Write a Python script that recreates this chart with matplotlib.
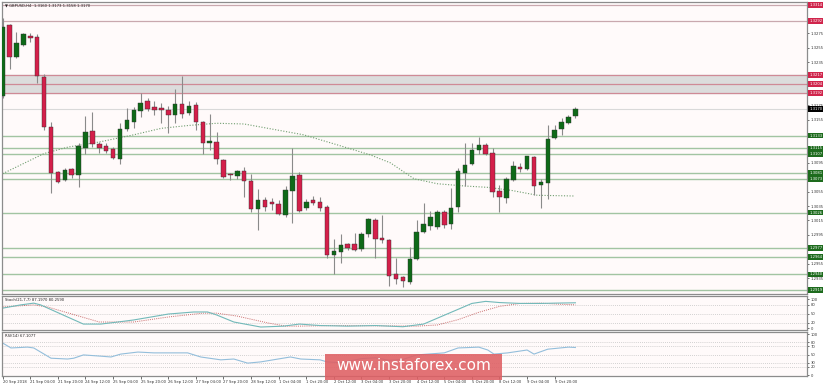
import matplotlib
matplotlib.use("Agg")
import matplotlib.pyplot as plt
import matplotlib.transforms as mtransforms
from matplotlib.patches import Rectangle

# ---------------- data ----------------
opens = [1.3188, 1.3287, 1.3242, 1.3259, 1.3271, 1.3270, 1.3214, 1.3145, 1.3082, 1.3071,
         1.3086, 1.3078, 1.3116, 1.3139, 1.3121, 1.3118, 1.3114, 1.3100, 1.3142, 1.3152,
         1.3167, 1.3181, 1.3173, 1.3171, 1.3168, 1.3161, 1.3177, 1.3164, 1.3175, 1.3152,
         1.3122, 1.3124, 1.3099, 1.3080, 1.3077, 1.3084, 1.3070, 1.3031, 1.3043, 1.3041,
         1.3038, 1.3023, 1.3056, 1.3078, 1.3032, 1.3043, 1.3041, 1.3034, 1.2967, 1.2971,
         1.2982, 1.2982, 1.2975, 1.2996, 1.3016, 1.2991, 1.2988, 1.2941, 1.2937, 1.2930,
         1.2962, 1.2999, 1.3007, 1.3006, 1.3027, 1.3010, 1.3034, 1.3081, 1.3093, 1.3113,
         1.3120, 1.3109, 1.3056, 1.3046, 1.3071, 1.3089, 1.3086, 1.3103, 1.3064, 1.3067,
         1.3130, 1.3142, 1.3150, 1.3160]
highs = [1.3296, 1.3288, 1.3277, 1.3275, 1.3275, 1.3274, 1.3218, 1.3152, 1.3084, 1.3088,
         1.3088, 1.3122, 1.3160, 1.3166, 1.3124, 1.3122, 1.3117, 1.3150, 1.3171, 1.3173,
         1.3192, 1.3185, 1.3181, 1.3178, 1.3174, 1.3198, 1.3216, 1.3181, 1.3180, 1.3153,
         1.3163, 1.3138, 1.3100, 1.3081, 1.3085, 1.3089, 1.3080, 1.3059, 1.3048, 1.3046,
         1.3043, 1.3063, 1.3116, 1.3082, 1.3045, 1.3049, 1.3048, 1.3036, 1.2989, 1.2996,
         1.2984, 1.2998, 1.2999, 1.3019, 1.3018, 1.3023, 1.2989, 1.2963, 1.2938, 1.2978,
         1.3016, 1.3039, 1.3028, 1.3030, 1.3030, 1.3060, 1.3088, 1.3122, 1.3122, 1.3131,
         1.3122, 1.3116, 1.3064, 1.3075, 1.3097, 1.3095, 1.3105, 1.3104, 1.3073, 1.3147,
         1.3147, 1.3157, 1.3161, 1.3173]
lows = [1.3185, 1.3225, 1.3240, 1.3257, 1.3263, 1.3206, 1.3140, 1.3053, 1.3067, 1.3070,
        1.3074, 1.3061, 1.3107, 1.3117, 1.3109, 1.3109, 1.3100, 1.3093, 1.3139, 1.3143,
        1.3159, 1.3167, 1.3161, 1.3150, 1.3136, 1.3150, 1.3157, 1.3161, 1.3140, 1.3107,
        1.3113, 1.3093, 1.3074, 1.3071, 1.3073, 1.3048, 1.3027, 1.3002, 1.3028, 1.3030,
        1.3023, 1.3020, 1.3012, 1.3027, 1.3030, 1.3036, 1.3028, 1.2963, 1.2941, 1.2956,
        1.2974, 1.2973, 1.2973, 1.2992, 1.2963, 1.2984, 1.2924, 1.2927, 1.2923, 1.2927,
        1.2960, 1.2998, 1.3002, 1.3003, 1.3005, 1.3003, 1.3027, 1.3063, 1.3092, 1.3107,
        1.3106, 1.3048, 1.3027, 1.3039, 1.3070, 1.3082, 1.3085, 1.3050, 1.3032, 1.3045,
        1.3128, 1.3134, 1.3149, 1.3158]
closes = [1.3284, 1.3242, 1.3262, 1.3274, 1.3268, 1.3216, 1.3145, 1.3081, 1.3068, 1.3085,
          1.3078, 1.3118, 1.3138, 1.3121, 1.3116, 1.3111, 1.3102, 1.3142, 1.3155, 1.3168,
          1.3178, 1.3170, 1.3168, 1.3168, 1.3161, 1.3177, 1.3163, 1.3174, 1.3152, 1.3122,
          1.3125, 1.3100, 1.3075, 1.3078, 1.3084, 1.3070, 1.3031, 1.3043, 1.3034, 1.3038,
          1.3024, 1.3057, 1.3077, 1.3028, 1.3041, 1.3039, 1.3032, 1.2967, 1.2973, 1.2981,
          1.2977, 1.2974, 1.2996, 1.3017, 1.2989, 1.2988, 1.2938, 1.2934, 1.2931, 1.2962,
          1.2999, 1.3010, 1.3020, 1.3027, 1.3009, 1.3032, 1.3084, 1.3092, 1.3113, 1.3120,
          1.3107, 1.3054, 1.3048, 1.3073, 1.3091, 1.3086, 1.3104, 1.3063, 1.3068, 1.3128,
          1.3140, 1.3152, 1.3159, 1.3170]

# moving average read points (bar, price)
ma_bars = [0, 6, 9.5, 14, 19, 23, 27, 31, 35, 39, 43.6, 48.5, 53.3, 56.2, 59.6, 63, 66.8,
           70.3, 73.6, 77.5, 82.8]
ma_vals = [1.3080, 1.3108, 1.3117, 1.3124, 1.3134, 1.3143, 1.3147, 1.3150, 1.3149, 1.3142,
           1.3134, 1.3120, 1.3106, 1.3095, 1.3073, 1.3066, 1.3063, 1.3061, 1.3057, 1.3050,
           1.3049]

# stochastic read points
stk_bars = [0, 2.6, 4.5, 5.5, 9.4, 11.7, 14.2, 16.7, 19, 24, 27.7, 29.7, 31, 33.5, 37.4,
            40.7, 43, 46, 50, 54, 58, 61, 63, 66, 68, 70, 72, 75, 78, 80, 83]
stk_vals = [69, 80, 86, 80, 39, 15, 15, 22, 29, 49, 56, 56, 46, 22, 5, 8, 15, 10, 8, 10,
            6, 15, 35, 65, 85, 92, 88, 85, 85, 86, 87.2]
sig_bars = [0, 4.5, 6.5, 9, 14, 19, 24, 29, 31, 34, 38.4, 41, 43, 48, 55, 60, 63, 66, 69,
            72, 75, 78, 81, 83]
sig_vals = [73, 80, 73, 56, 22, 22, 39, 52, 52, 42, 19, 8, 8, 10, 9, 8, 12, 30, 55, 75, 85,
            86, 82, 80.3]

# RSI read points
rsi_bars = [0, 1.2, 3.6, 4.5, 7, 9.4, 10.3, 11.7, 14.2, 15.7, 17.1, 19.6, 21.9, 24, 26.8,
            28.7, 31.6, 33.5, 35.5, 37.4, 41.7, 43.2, 46, 47, 49, 52, 54, 56, 58, 60, 61.6,
            64, 66, 69, 70.3, 71.2, 73.2, 76, 77, 79, 82, 83]
rsi_vals = [78, 66, 68, 66, 41, 39, 41, 49, 46, 44, 51, 56, 54, 54, 54, 44, 37, 39, 29, 32,
            44, 39, 37, 32, 30, 40, 42, 36, 38, 49, 51, 54, 66, 68, 61, 51, 54, 61, 51, 63,
            68, 67.1]

red_levels = [1.3314, 1.3292, 1.3217, 1.3204, 1.3192]
green_levels = [1.3133, 1.3115, 1.3107, 1.3081, 1.3073, 1.3026, 1.2977, 1.2964, 1.2940, 1.2919]
band = (1.3192, 1.3217)
last_price = 1.3170
plain_ticks = [1.3275, 1.3255, 1.3235, 1.3175, 1.3155, 1.3095, 1.3055, 1.3035, 1.3015,
               1.2995, 1.2955, 1.2935]

time_labels = ["20 Sep 2018", "21 Sep 04:00", "21 Sep 20:00", "24 Sep 12:00", "25 Sep 04:00",
               "25 Sep 20:00", "26 Sep 12:00", "27 Sep 04:00", "27 Sep 20:00", "28 Sep 12:00",
               "1 Oct 04:00", "1 Oct 20:00", "2 Oct 12:00", "3 Oct 04:00", "3 Oct 20:00",
               "4 Oct 12:00", "5 Oct 04:00", "5 Oct 20:00", "8 Oct 12:00", "9 Oct 04:00",
               "9 Oct 20:00"]
time_label_step = 4

header_main = "\u25bc GBPUSD,H4  1.3160 1.3173 1.3158 1.3170"
header_stoch = "Stoch(21,7,7) 87.1970 80.2590"
header_rsi = "RSI(14) 67.1077"
stoch_levels = [80, 50, 20]
stoch_ticks = [100, 80, 50, 20, 0]
rsi_levels = [80, 70, 50, 30, 20]
rsi_ticks = [100, 80, 70, 50, 30, 20, 0]

# ---------------- styling ----------------
W, H = 825, 385
BG = "#fffafa"
GREEN = "#0e6a18"
RED = "#d41f4a"
FS = 2.7
FRAME = "#8c8c8c"

fig = plt.figure(figsize=(W / 100, H / 100), dpi=100)
fig.patch.set_facecolor("white")

def px_axes(left, top, right, bottom):
    return fig.add_axes([left / W, 1 - bottom / H, (right - left) / W, (bottom - top) / H])

ax = px_axes(2, 1.5, 807, 294)
ax_s = px_axes(2, 296, 807, 330)
ax_r = px_axes(2, 332, 807, 376)

x0, x1 = -0.1, -0.1 + 805 / 6.9
for a in (ax, ax_s, ax_r):
    a.set_facecolor(BG)
    a.set_xlim(x0, x1)
    for s in a.spines.values():
        s.set_color(FRAME)
        s.set_linewidth(0.9)
    a.tick_params(axis="y", left=False, labelleft=False, right=True, labelright=True,
                  labelsize=FS, length=1.5, width=0.5, pad=1, colors="#333333")
    a.tick_params(axis="x", bottom=False, labelbottom=False)

# main price panel
ax.set_ylim(1.29129, 1.33191)
ax.axhspan(band[0], band[1], color="#dcdcdc", zorder=0)
for i, v in enumerate(red_levels):
    ax.axhline(v, color="#cf8a96" if i >= 2 else "#c9a8ae", lw=0.9, zorder=1)
for v in green_levels:
    ax.axhline(v, color="#a2c4a2", lw=1.0, zorder=1)
ax.axhline(last_price, color="#d9d9d9", lw=0.8, zorder=1)

ax.plot(ma_bars, ma_vals, color="#6f9d6f", lw=0.8, ls=(0, (1, 1.5)), zorder=2)

bw = 0.66
for i, (o, h, l, c) in enumerate(zip(opens, highs, lows, closes)):
    col = GREEN if c >= o else RED
    ax.vlines(i, l, h, color="#8a8a8a", lw=0.8, zorder=3)
    lo, hi = min(o, c), max(o, c)
    ax.add_patch(Rectangle((i - bw / 2, lo), bw, max(hi - lo, 0.00004), facecolor=col,
                           edgecolor="#303030", lw=0.3, zorder=4))

ax.set_yticks(plain_ticks)
ax.set_yticklabels([f"{v:.4f}" for v in plain_ticks])

trans = mtransforms.blended_transform_factory(ax.transAxes, ax.transData)
for v in red_levels:
    ax.text(1.003, v, f"{v:.4f}", transform=trans, fontsize=FS, color="white", va="center",
            ha="left", bbox=dict(boxstyle="square,pad=0.25", fc="#d0254c", ec="none"),
            clip_on=False)
for v in green_levels:
    ax.text(1.003, v, f"{v:.4f}", transform=trans, fontsize=FS, color="white", va="center",
            ha="left", bbox=dict(boxstyle="square,pad=0.25", fc="#1d6b1d", ec="none"),
            clip_on=False)
ax.text(1.003, last_price, f"{last_price:.4f}", transform=trans, fontsize=FS, color="white",
        va="center", ha="left", bbox=dict(boxstyle="square,pad=0.25", fc="black", ec="none"),
        clip_on=False)
ax.text(0.004, 0.992, header_main, transform=ax.transAxes, fontsize=FS, va="top", ha="left",
        color="#222222")

# stochastic
ax_s.set_ylim(-5.1, 110.2)
for v in stoch_levels:
    ax_s.axhline(v, color="#c4c4c4", lw=0.6, ls=(0, (1, 1.5)))
ax_s.plot(sig_bars, sig_vals, color="#c86a6a", lw=0.7, ls=(0, (1, 1.2)))
ax_s.plot(stk_bars, stk_vals, color="#72b9b9", lw=0.8)
ax_s.set_yticks(stoch_ticks)
ax_s.set_yticklabels([str(v) for v in stoch_ticks])
ax_s.text(0.004, 0.95, header_stoch, transform=ax_s.transAxes, fontsize=FS, va="top",
          ha="left", color="#222222")

# RSI
ax_r.set_ylim(-2.4, 104.9)
for v in rsi_levels:
    ax_r.axhline(v, color="#c4c4c4", lw=0.6, ls=(0, (1, 1.5)))
ax_r.plot(rsi_bars, rsi_vals, color="#93bedb", lw=0.8)
ax_r.set_yticks(rsi_ticks)
ax_r.set_yticklabels([str(v) for v in rsi_ticks])
ax_r.text(0.004, 0.96, header_rsi, transform=ax_r.transAxes, fontsize=FS, va="top",
          ha="left", color="#222222")

tick_pos = [k * time_label_step for k in range(len(time_labels))]
ax_r.set_xticks(tick_pos)
ax_r.set_xticklabels(time_labels)
ax_r.tick_params(axis="x", bottom=True, labelbottom=True, labelsize=FS, length=2,
                 width=0.5, pad=1.2, colors="#333333")
for lab in ax_r.get_xticklabels():
    lab.set_ha("left")

# watermark
fig.patches.append(Rectangle((325 / W, 5 / H), 177 / W, 26 / H, transform=fig.transFigure,
                             facecolor="#df5f63", edgecolor="none", alpha=0.88, zorder=10))
fig.text(413.5 / W, 19 / H, "www.instaforex.com", fontsize=11, color="white", ha="center",
         va="center", zorder=11)

fig.savefig("out.png", dpi=100, facecolor="white")
